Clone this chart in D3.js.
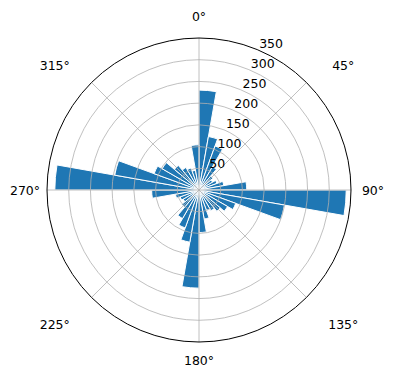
<!DOCTYPE html>
<html>
<head>
<meta charset="utf-8">
<script src="https://cdn.jsdelivr.net/npm/d3@7"></script>
<style>
  body { margin: 0; background: #fff; }
  svg text { font-family: "DejaVu Sans", sans-serif; font-size: 12.5px; fill: #000; }
</style>
</head>
<body>
<svg id="chart" width="396" height="380"></svg>
<script>
// bin left edges in degrees (clockwise from north)
const directions = d3.range(0, 360, 10);
// counts per 10 degree bin
const counts = [230, 125, 108, 62, 42, 36, 44, 58, 110,
                339, 200, 90, 76, 64, 55, 50, 68, 98,
                226, 122, 93, 76, 52, 42, 46, 55, 109,
                332, 197, 110, 98, 74, 60, 54, 46, 104];
const rTicks = [50, 100, 150, 200, 250, 300, 350];
const thetaTicks = [0, 45, 90, 135, 180, 225, 270, 315];

const cx = 199, cy = 190, R = 152;
const svg = d3.select('#chart');
const g = svg.append('g').attr('transform', `translate(${cx},${cy})`);

const r = d3.scaleLinear().domain([0, 350]).range([0, R]);
const a = d3.scaleLinear().domain([0, 360]).range([0, 2 * Math.PI]);

// bars
const arc = d3.arc()
  .innerRadius(0)
  .outerRadius(d => r(d.v))
  .startAngle(d => a(d.dir))
  .endAngle(d => a(d.dir + 10));

g.selectAll('path.bar')
  .data(directions.map((dir, i) => ({ dir, v: counts[i] })))
  .enter().append('path')
  .attr('class', 'bar')
  .attr('d', arc)
  .attr('fill', '#1f77b4')
  .attr('stroke', '#fff')
  .attr('stroke-width', 1);

// grid (drawn over the bars)
g.selectAll('circle.grid')
  .data(rTicks.filter(t => t < 350))
  .enter().append('circle')
  .attr('r', d => r(d))
  .attr('fill', 'none')
  .attr('stroke', '#b0b0b0')
  .attr('stroke-width', 0.8);

g.selectAll('line.tgrid')
  .data(thetaTicks)
  .enter().append('line')
  .attr('x1', 0).attr('y1', 0)
  .attr('x2', d => R * Math.sin(a(d)))
  .attr('y2', d => -R * Math.cos(a(d)))
  .attr('stroke', '#b0b0b0')
  .attr('stroke-width', 0.8);

// outer spine
g.append('circle')
  .attr('r', R)
  .attr('fill', 'none')
  .attr('stroke', '#000')
  .attr('stroke-width', 1);

// radial labels at 22.5 deg
const rl = a(22.5);
g.selectAll('text.rlab')
  .data(rTicks)
  .enter().append('text')
  .attr('x', d => r(d) * Math.sin(rl) + 2)
  .attr('y', d => -r(d) * Math.cos(rl) - 2)
  .text(d => d);

// angle labels, centred on points just outside the spine
g.selectAll('text.tlab')
  .data(thetaTicks)
  .enter().append('text')
  .attr('text-anchor', 'middle')
  .attr('dy', '0.36em')
  .attr('x', d => {
    const t = a(d);
    return Math.sin(t) * (174 + 30 * Math.abs(Math.sin(2 * t)));
  })
  .attr('y', d => {
    const t = a(d);
    const k = Math.abs(Math.sin(2 * t));
    const c = Math.cos(t);
    const base = c > 0 ? 174 : 170;
    return -c * (base + 8 * k) + 4 * k + (c < 0 ? 5 * k : 0);
  })
  .text(d => d + '°');
</script>
</body>
</html>
